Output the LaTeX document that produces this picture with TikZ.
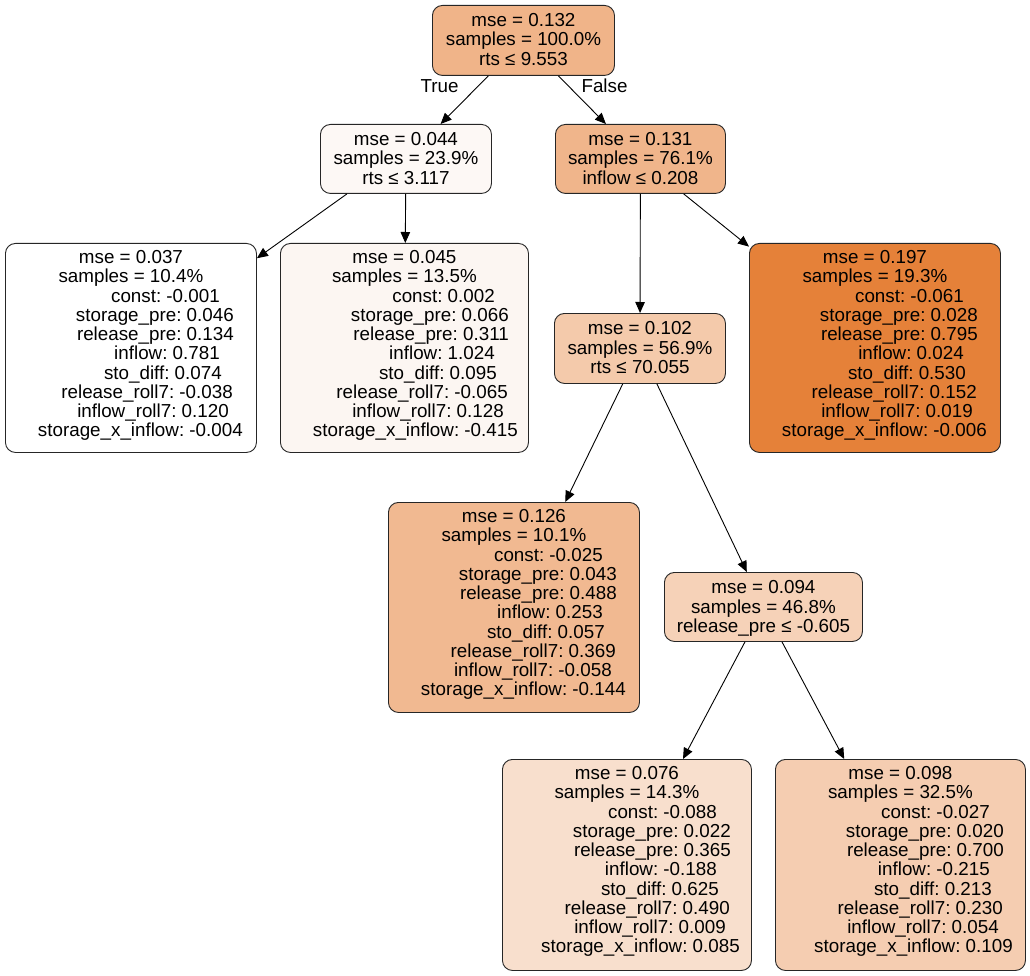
\documentclass[tikz,border=0pt]{standalone}
\usepackage{fontspec}
\setmainfont{Liberation Sans}
\usetikzlibrary{arrows.meta,calc}
\frenchspacing

% node fills (shade grows with the node's mse)
\definecolor{fillroot}{HTML}{F0B489}
\definecolor{fillA}{HTML}{FDF8F5}
\definecolor{fillB}{HTML}{F0B58B}
\definecolor{fillLone}{HTML}{FFFFFF}
\definecolor{fillLtwo}{HTML}{FCF6F2}
\definecolor{fillR}{HTML}{E58139}
\definecolor{fillC}{HTML}{F4CAAB}
\definecolor{fillCone}{HTML}{F1B991}
\definecolor{fillD}{HTML}{F6D2B8}
\definecolor{fillDone}{HTML}{F8DFCD}
\definecolor{fillDtwo}{HTML}{F5CDB1}

\tikzset{
  treebox/.style={draw=black!85, line width=0.9pt, rounded corners=10pt,
    inner sep=0pt, anchor=north west},
  txt/.style={inner sep=0pt, font=\fontsize{18.8}{19}\selectfont, text=black},
  link/.style={draw=black, line width=0.9pt, -{Triangle[length=11pt,width=9.5pt]}},
}

% three centred lines of a split node
\newcommand\splittext[4]{%
  \node[txt, anchor=base] (#1-a) at ($(#1.north)+(0,21.5)$) {#2};
  \node[txt, anchor=base] (#1-b) at ($(#1.north)+(0,41)$) {#3};
  \node[txt, anchor=base] (#1-c) at ($(#1.north)+(0,60.5)$) {#4};}

% header lines of a leaf
\newcommand\leafhead[3]{%
  \node[txt, anchor=base] (#1-m) at ($(#1.north)+(0,20.5)$) {#2};
  \node[txt, anchor=base] (#1-s) at ($(#1.north)+(0,39.75)$) {#3};}

% coefficient lines of a leaf
\newcommand\leafvals[9]{%
  \node[txt, anchor=base east] (#1-v1) at ($(#1.north west)+(215,59)$) {const: #2};
  \node[txt, anchor=base east] (#1-v2) at ($(#1.north west)+(229,78.25)$) {storage\_pre: #3};
  \node[txt, anchor=base east] (#1-v3) at ($(#1.north west)+(229,97.5)$) {release\_pre: #4};
  \node[txt, anchor=base east] (#1-v4) at ($(#1.north west)+(215,116.75)$) {inflow: #5};
  \node[txt, anchor=base east] (#1-v5) at ($(#1.north west)+(217,136)$) {sto\_diff: #6};
  \node[txt, anchor=base east] (#1-v6) at ($(#1.north west)+(228,155.25)$) {release\_roll7: #7};
  \node[txt, anchor=base east] (#1-v7) at ($(#1.north west)+(224,174.5)$) {inflow\_roll7: #8};
  \node[txt, anchor=base east] (#1-v8) at ($(#1.north west)+(238,193.75)$) {storage\_x\_inflow: #9};}

\begin{document}
\begin{tikzpicture}[x=1pt, y=-1pt]
  \fill[white] (0,0) rectangle (1030,976);
  \useasboundingbox (0,0) rectangle (1030,976);

  % boxes
  \node[treebox, fill=fillroot, minimum width=182pt, minimum height=70pt] (root) at (432,5) {};
  \node[treebox, fill=fillA, minimum width=171pt, minimum height=69pt] (A) at (320,124) {};
  \node[treebox, fill=fillB, minimum width=170pt, minimum height=69pt] (B) at (555,124) {};
  \node[treebox, fill=fillLone, minimum width=251pt, minimum height=209pt] (L1) at (5,243) {};
  \node[treebox, fill=fillLtwo, minimum width=248pt, minimum height=209pt] (L2) at (280,243) {};
  \node[treebox, fill=fillR, minimum width=251pt, minimum height=209pt] (R) at (749,243) {};
  \node[treebox, fill=fillC, minimum width=171pt, minimum height=70pt] (C) at (554,313) {};
  \node[treebox, fill=fillCone, minimum width=251pt, minimum height=210pt] (C1) at (388,502) {};
  \node[treebox, fill=fillD, minimum width=198pt, minimum height=69pt] (D) at (664,572) {};
  \node[treebox, fill=fillDone, minimum width=249pt, minimum height=211pt] (D1) at (502,759) {};
  \node[treebox, fill=fillDtwo, minimum width=250pt, minimum height=211pt] (D2) at (775,759) {};

  % split nodes
  \splittext{root}{mse = 0.132}{samples = 100.0\%}{rts ≤ 9.553}
  \splittext{A}{mse = 0.044}{samples = 23.9\%}{rts ≤ 3.117}
  \splittext{B}{mse = 0.131}{samples = 76.1\%}{inflow ≤ 0.208}
  \splittext{C}{mse = 0.102}{samples = 56.9\%}{rts ≤ 70.055}
  \splittext{D}{mse = 0.094}{samples = 46.8\%}{release\_pre ≤ -0.605}

  % leaves
  \leafhead{L1}{mse = 0.037}{samples = 10.4\%}
  \leafvals{L1}{-0.001}{0.046}{0.134}{0.781}{0.074}{-0.038}{0.120}{-0.004}
  \leafhead{L2}{mse = 0.045}{samples = 13.5\%}
  \leafvals{L2}{0.002}{0.066}{0.311}{1.024}{0.095}{-0.065}{0.128}{-0.415}
  \leafhead{R}{mse = 0.197}{samples = 19.3\%}
  \leafvals{R}{-0.061}{0.028}{0.795}{0.024}{0.530}{0.152}{0.019}{-0.006}
  \leafhead{C1}{mse = 0.126}{samples = 10.1\%}
  \leafvals{C1}{-0.025}{0.043}{0.488}{0.253}{0.057}{0.369}{-0.058}{-0.144}
  \leafhead{D1}{mse = 0.076}{samples = 14.3\%}
  \leafvals{D1}{-0.088}{0.022}{0.365}{-0.188}{0.625}{0.490}{0.009}{0.085}
  \leafhead{D2}{mse = 0.098}{samples = 32.5\%}
  \leafvals{D2}{-0.027}{0.020}{0.700}{-0.215}{0.213}{0.230}{0.054}{0.109}

  % connectors
  \draw[link] (root) -- (A);
  \draw[link] (root) -- (B);
  \draw[link] ($(A.south)+(-59,0)$) -- (L1);
  \draw[link] (A) -- (L2);
  \draw[link] (B) -- (C);
  \draw[link] (B) -- (R);
  \draw[link] (C) -- (C1);
  \draw[link] (C) -- (D);
  \draw[link] (D) -- (D1);
  \draw[link] (D) -- (D2);

  % branch labels
  \node[txt, anchor=base] (lbltrue) at (439.5,93) {True};
  \node[txt, anchor=base] (lblfalse) at (604.5,93) {False};
\end{tikzpicture}
\end{document}
